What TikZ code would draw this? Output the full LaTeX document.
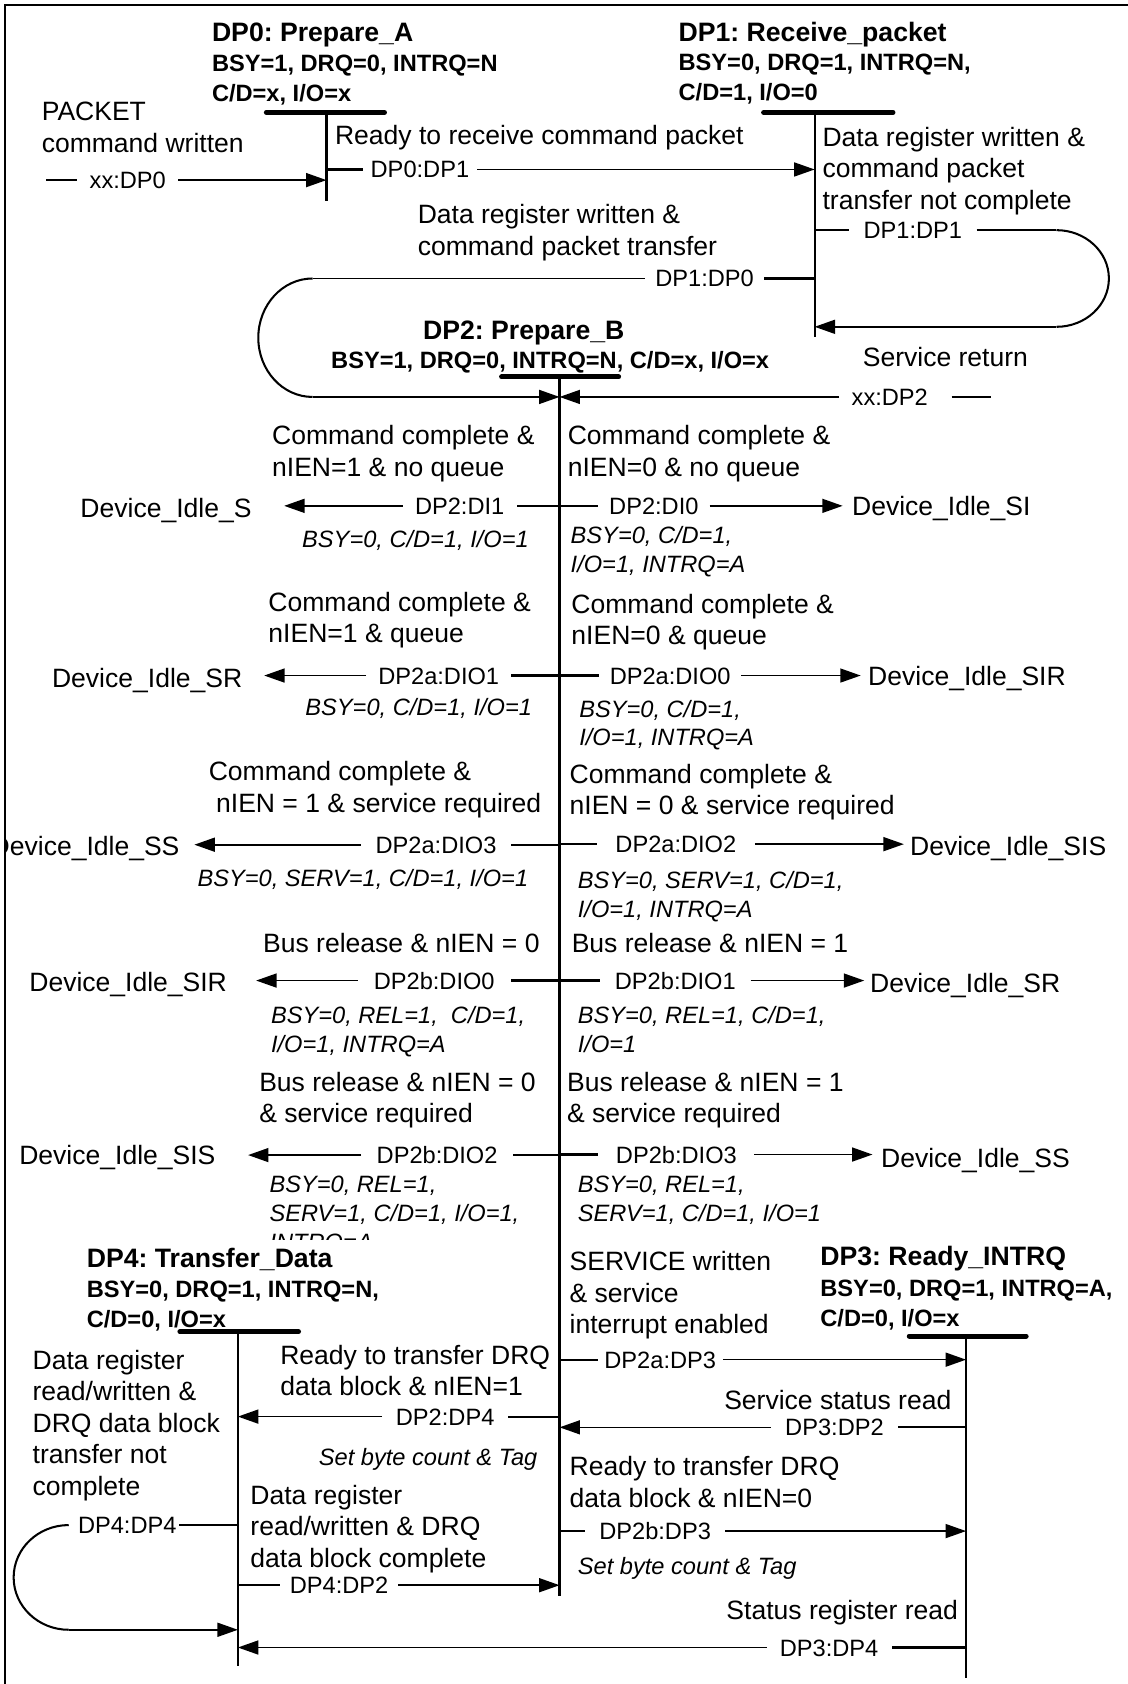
\documentclass[tikz,border=0pt]{standalone}
\usepackage{fontspec}
\setmainfont{Liberation Sans}
\usetikzlibrary{arrows.meta}
\frenchspacing
\tikzset{
  big/.style={font=\fontsize{12.35pt}{14.65pt}\selectfont, inner sep=0pt, align=left, anchor=north west},
  hdr/.style={font=\bfseries\fontsize{12.4pt}{14.65pt}\selectfont, inner sep=0pt, anchor=west, text height=8.93pt, text depth=0pt},
  cond/.style={font=\bfseries\fontsize{11pt}{14pt}\selectfont, inner sep=0pt, align=left, anchor=north west},
  ital/.style={font=\itshape\fontsize{11pt}{13.35pt}\selectfont, inner sep=0pt, align=left, anchor=north west},
  lbl/.style={font=\fontsize{11pt}{13pt}\selectfont, inner ysep=0pt, text height=7.92pt, text depth=0pt},
  dev/.style={font=\fontsize{12.35pt}{14.65pt}\selectfont, inner ysep=0pt, text height=8.9pt, text depth=0pt},
  bar/.style={line width=2.3pt, line cap=round},
  vline/.style={line width=1pt},
  conn/.style={line width=0.75pt},
  stub/.style={line width=1pt},
  arcl/.style={line width=0.95pt},
  arr/.style={-{Triangle[length=9.5pt,width=6.5pt]}},
  frame/.style={line width=1.35pt}
}
\begin{document}
\begin{tikzpicture}[x=0.5pt,y=-0.5pt]
\useasboundingbox (0,0) rectangle (1050,1568);

% ---------- state verticals ----------
\coordinate (dp0t) at (304,104.7);   \coordinate (dp0b) at (304,187);
\coordinate (dp1t) at (758.5,104.7); \coordinate (dp1b) at (758.5,313.7);
\coordinate (dp2t) at (521,351);     \coordinate (dp2b) at (521,1486);
\coordinate (dp3t) at (899.5,1244);  \coordinate (dp3b) at (899.5,1562);
\coordinate (dp4t) at (221.5,1240);  \coordinate (dp4b) at (221.5,1551);
\draw[vline] (dp0t) -- (dp0b);
\draw[vline] (dp1t) -- (dp1b);
\draw[vline] (dp2t) -- (dp2b);
\draw[vline] (dp3t) -- (dp3b);
\draw[vline] (dp4t) -- (dp4b);

% ---------- bars ----------
\draw[bar] (248,104.7) -- (358,104.7);
\draw[bar] (711,104.7) -- (831.5,104.7);
\draw[bar] (467,351) -- (576,351);
\draw[bar] (846.6,1244) -- (955.5,1244);
\draw[bar] (167.5,1240) -- (278,1240);

% ---------- state titles ----------
\node[hdr] (dp0) at (197,29.5) {DP0: Prepare\_A};
\node[cond] (dp0c) at (197,51) {BSY=1, DRQ=0, INTRQ=N\\C/D=x, I/O=x};
\node[hdr] (dp1) at (631.5,29.5) {DP1: Receive\_packet};
\node[cond] (dp1c) at (631.5,50) {BSY=0, DRQ=1, INTRQ=N,\\C/D=1, I/O=0};
\node[hdr] (dp2) at (393.6,307) {DP2: Prepare\_B};
\node[cond] (dp2c) at (308,327) {BSY=1, DRQ=0, INTRQ=N, C/D=x, I/O=x};
\node[hdr] (dp3) at (763.5,1169) {DP3: Ready\_INTRQ};
\node[cond] (dp3c) at (763.5,1191) {BSY=0, DRQ=1, INTRQ=A,\\C/D=0, I/O=x};
\node[hdr] (dp4) at (80.4,1171) {DP4: Transfer\_Data};
\node[cond] (dp4c) at (80.4,1192) {BSY=0, DRQ=1, INTRQ=N,\\C/D=0, I/O=x};

% ---------- top transitions ----------
\node[lbl, inner xsep=5.5pt] (lxx0) at (119,167.7) {xx:DP0};
\coordinate (xx0a) at (43,167.7);
\draw[stub] (xx0a) -- (lxx0.west);
\draw[conn,arr] (lxx0.east) -- (lxx0.east -| dp0t);

\node[lbl, inner xsep=3.5pt] (l01) at (391,157.8) {DP0:DP1};
\draw[stub] (l01.west -| dp0t) -- (l01.west);
\draw[conn,arr] (l01.east) -- (l01.east -| dp1t);

\node[lbl, inner xsep=6.5pt] (l11) at (850,214.3) {DP1:DP1};
\coordinate (c11a) at (983.7,214.3);
\coordinate (c11b) at (983.7,304.3);
\draw[stub] (l11.west -| dp1t) -- (l11.west);
\draw[conn] (l11.east) -- (c11a);
\draw[arcl] (c11a) arc[start angle=-90,end angle=90,x radius=48.8,y radius=45];
\draw[conn,arr] (c11b) -- (c11b -| dp1t);

\node[lbl, inner xsep=4.75pt] (l10) at (656,259.3) {DP1:DP0};
\coordinate (c10a) at (291,259.3);
\coordinate (c10b) at (291,369.6);
\draw[stub] (l10.east -| dp1t) -- (l10.east);
\draw[conn] (l10.west) -- (c10a);
\draw[arcl] (c10a) arc[start angle=-90,end angle=-270,x radius=50.5,y radius=55.15];
\draw[conn,arr] (c10b) -- (c10b -| dp2t);

\node[lbl, inner xsep=5.7pt] (lxx2) at (828.5,369.6) {xx:DP2};
\coordinate (xx2a) at (886,369.6);
\coordinate (xx2b) at (923,369.6);
\draw[stub] (xx2a) -- (xx2b);
\draw[conn,arr] (lxx2.west) -- (lxx2.west -| dp2t);

% ---------- top texts ----------
\node[big] (tPacket) at (38.5,94.9) {PACKET\\command written};
\node[big] (tReady) at (311.6,116) {Ready to receive command packet};
\node[big] (tDRW1) at (388.6,190) {Data register written \&\\command packet transfer};
\node[big] (tDRW2) at (765.5,118) {Data register written \&\\command packet\\transfer not complete};
\node[big] (tSR) at (803,323) {Service return};

% ---------- DP2 exits, left ----------
\node[lbl, inner xsep=5.5pt] (lDI1) at (428,471) {DP2:DI1};
\node[dev, anchor=east, inner xsep=15pt] (dS) at (264.6,473) {Device\_Idle\_S};
\draw[stub] (lDI1.east -| dp2t) -- (lDI1.east);
\draw[conn,arr] (lDI1.west) -- (lDI1.west -| dS.east);

\node[lbl, inner xsep=5.5pt] (lDIO1) at (408.5,629) {DP2a:DIO1};
\node[dev, anchor=east, inner xsep=10pt] (dSR) at (246,631) {Device\_Idle\_SR};
\draw[stub] (lDIO1.east -| dp2t) -- (lDIO1.east);
\draw[conn,arr] (lDIO1.west) -- (lDIO1.west -| dSR.east);

\begin{scope}
\clip (4.7,0) rectangle (1050,1568);
\node[dev, anchor=east, inner xsep=6.75pt] (dSS) at (181,788) {Device\_Idle\_SS};
\end{scope}
\node[lbl, inner xsep=6.7pt] (lDIO3) at (406,786.5) {DP2a:DIO3};
\draw[stub] (lDIO3.east -| dp2t) -- (lDIO3.east);
\draw[conn,arr] (lDIO3.west) -- (lDIO3.west -| dSS.east);

\node[lbl, inner xsep=7.3pt] (lDIO0b) at (404.3,913) {DP2b:DIO0};
\node[dev, anchor=east, inner xsep=13.4pt] (dSIRl) at (238.5,914) {Device\_Idle\_SIR};
\draw[stub] (lDIO0b.east -| dp2t) -- (lDIO0b.east);
\draw[conn,arr] (lDIO0b.west) -- (lDIO0b.west -| dSIRl.east);

\node[lbl, inner xsep=7pt] (lDIO2b) at (407,1075.5) {DP2b:DIO2};
\node[dev, anchor=east, inner xsep=15pt] (dSISl) at (231,1075) {Device\_Idle\_SIS};
\draw[stub] (lDIO2b.east -| dp2t) -- (lDIO2b.east);
\draw[conn,arr] (lDIO2b.west) -- (lDIO2b.west -| dSISl.east);

% ---------- DP2 exits, right ----------
\node[lbl, inner xsep=5pt] (lDI0) at (608.8,471) {DP2:DI0};
\node[dev, anchor=west, inner xsep=4.2pt] (dSI) at (784.6,471) {Device\_Idle\_SI};
\draw[stub] (lDI0.west -| dp2t) -- (lDI0.west);
\draw[conn,arr] (lDI0.east) -- (lDI0.east -| dSI.west);

\node[lbl, inner xsep=4.75pt] (lDIO0) at (624,629) {DP2a:DIO0};
\node[dev, anchor=west, inner xsep=3.3pt] (dSIR) at (801.4,629) {Device\_Idle\_SIR};
\draw[stub] (lDIO0.west -| dp2t) -- (lDIO0.west);
\draw[conn,arr] (lDIO0.east) -- (lDIO0.east -| dSIR.west);

\node[lbl, inner xsep=8.5pt] (lDIO2) at (629.3,786) {DP2a:DIO2};
\node[dev, anchor=west, inner xsep=2.7pt] (dSIS) at (841.6,788) {Device\_Idle\_SIS};
\draw[stub] (lDIO2.west -| dp2t) -- (lDIO2.west);
\draw[conn,arr] (lDIO2.east) -- (lDIO2.east -| dSIS.west);

\node[lbl, inner xsep=6.75pt] (lDIO1b) at (628.8,913) {DP2b:DIO1};
\node[dev, anchor=west, inner xsep=2.55pt] (dSRr) at (804.7,915) {Device\_Idle\_SR};
\draw[stub] (lDIO1b.west -| dp2t) -- (lDIO1b.west);
\draw[conn,arr] (lDIO1b.east) -- (lDIO1b.east -| dSRr.west);

\node[lbl, inner xsep=8pt] (lDIO3b) at (629.8,1075) {DP2b:DIO3};
\node[dev, anchor=west, inner xsep=3.8pt] (dSSr) at (812.4,1078) {Device\_Idle\_SS};
\draw[stub] (lDIO3b.west -| dp2t) -- (lDIO3b.west);
\draw[conn,arr] (lDIO3b.east) -- (lDIO3b.east -| dSSr.west);

% ---------- DP2 exit conditions ----------
\node[big] (tCC1) at (253,396) {Command complete \&\\nIEN=1 \& no queue};
\node[big] (tCC0) at (528.3,396) {Command complete \&\\nIEN=0 \& no queue};
\node[big] (tCQ1) at (249.6,551) {Command complete \&\\nIEN=1 \& queue};
\node[big] (tCQ0) at (531.7,552.6) {Command complete \&\\nIEN=0 \& queue};
\node[big] (tCS1) at (194,708.5) {Command complete \&\\\kern0.278em nIEN = 1 \& service required};
\node[big] (tCS0) at (530,711) {Command complete \&\\nIEN = 0 \& service required};
\node[big] (tBR0) at (244.6,869) {Bus release \& nIEN = 0};
\node[big] (tBR1) at (532,869) {Bus release \& nIEN = 1};
\node[big] (tBS0) at (241,998) {Bus release \& nIEN = 0\\\& service required};
\node[big] (tBS1) at (527.7,998) {Bus release \& nIEN = 1\\\& service required};

\node[ital] (i1) at (281,493) {BSY=0, C/D=1, I/O=1};
\node[ital] (i2) at (531,490) {BSY=0, C/D=1,\\I/O=1, INTRQ=A};
\node[ital] (i3) at (284,650) {BSY=0, C/D=1, I/O=1};
\node[ital] (i4) at (539,651.5) {BSY=0, C/D=1,\\I/O=1, INTRQ=A};
\node[ital] (i5) at (183.6,809.5) {BSY=0, SERV=1, C/D=1, I/O=1};
\node[ital] (i6) at (537.7,811) {BSY=0, SERV=1, C/D=1,\\I/O=1, INTRQ=A};
\node[ital] (i7) at (252,937) {BSY=0, REL=1,~ C/D=1,\\I/O=1, INTRQ=A};
\node[ital] (i8) at (537.7,937) {BSY=0, REL=1, C/D=1,\\I/O=1};
\begin{scope}
\clip (0,0) rectangle (1050,1154.5);
\node[ital] (i9) at (250.6,1095) {BSY=0, REL=1,\\SERV=1, C/D=1, I/O=1,\\INTRQ=A};
\end{scope}
\node[ital] (i10) at (537.7,1094.5) {BSY=0, REL=1,\\SERV=1, C/D=1, I/O=1};

% ---------- lower transitions ----------
\node[lbl, inner xsep=3pt] (l2a3) at (614.75,1266) {DP2a:DP3};
\draw[stub] (l2a3.west -| dp2t) -- (l2a3.west);
\draw[conn,arr] (l2a3.east) -- (l2a3.east -| dp3t);

\node[lbl, inner xsep=6.5pt] (l32) at (777,1329) {DP3:DP2};
\draw[stub] (l32.east -| dp3t) -- (l32.east);
\draw[conn,arr] (l32.west) -- (l32.west -| dp2t);

\node[lbl, inner xsep=6.5pt] (l2b3) at (610,1425.6) {DP2b:DP3};
\draw[stub] (l2b3.west -| dp2t) -- (l2b3.west);
\draw[conn,arr] (l2b3.east) -- (l2b3.east -| dp3t);

\node[lbl, inner xsep=6pt] (l34) at (772,1534) {DP3:DP4};
\draw[stub] (l34.east -| dp3t) -- (l34.east);
\draw[conn,arr] (l34.west) -- (l34.west -| dp4t);

\node[lbl, inner xsep=6.25pt] (l24) at (414.5,1319) {DP2:DP4};
\draw[stub] (l24.east -| dp2t) -- (l24.east);
\draw[conn,arr] (l24.west) -- (l24.west -| dp4t);

\node[lbl, inner xsep=4.5pt] (l42) at (315.75,1476) {DP4:DP2};
\draw[stub] (l42.west -| dp4t) -- (l42.west);
\draw[conn,arr] (l42.east) -- (l42.east -| dp2t);

\node[lbl, inner xsep=1pt] (l44) at (118.5,1420) {DP4:DP4};
\coordinate (c44a) at (64,1420);
\coordinate (c44b) at (64,1517.5);
\draw[stub] (l44.east -| dp4t) -- (l44.east);
\draw[arcl] (c44a) arc[start angle=-90,end angle=-270,x radius=51.3,y radius=48.75];
\draw[conn,arr] (c44b) -- (c44b -| dp4t);

% ---------- lower texts ----------
\node[big] (tSW) at (530,1165) {SERVICE written\\\& service\\interrupt enabled};
\node[big] (tSSR) at (674,1294) {Service status read};
\node[big] (tRT0) at (530,1356) {Ready to transfer DRQ\\data block \& nIEN=0};
\node[big] (tStR) at (676,1489.5) {Status register read};
\node[big] (tRT1) at (260.6,1252) {Ready to transfer DRQ\\data block \& nIEN=1};
\node[big] (tDRC) at (232.8,1382.4) {Data register\\read/written \& DRQ\\data block complete};
\node[big] (tDRN) at (30,1256.6) {Data register\\read/written \&\\DRQ data block\\transfer not\\complete};
\node[ital] (i11) at (296.5,1348) {Set byte count \& Tag};
\node[ital] (i12) at (537.7,1450) {Set byte count \& Tag};

% ---------- frame ----------
\draw[frame] (4.7,1568) -- (4.7,4.7) -- (1050,4.7);
\end{tikzpicture}
\end{document}
